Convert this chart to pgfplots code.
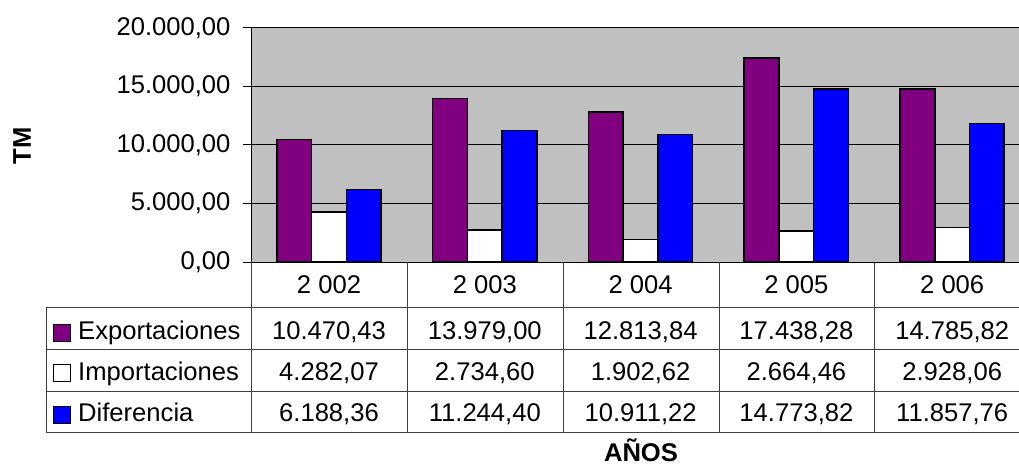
\documentclass[border=0pt]{standalone}
\usepackage{fontspec}
\setmainfont{Liberation Sans}
\usepackage{pgfplots}
\usepackage{pgfplotstable}
\pgfplotsset{compat=1.18}

\pgfplotstableread{
x exp imp dif
0 10470.43 4282.07 6188.36
1 13979.00 2734.60 11244.40
2 12813.84 1902.62 10911.22
3 17438.28 2664.46 14773.82
4 14785.82 2928.06 11857.76
}\datatable

\definecolor{expc}{RGB}{128,0,128}
\definecolor{impc}{RGB}{255,255,255}
\definecolor{difc}{RGB}{0,0,255}
\definecolor{plotbg}{RGB}{192,192,192}
\newcommand\bigf{\fontsize{25.6}{30}\selectfont}

\begin{document}
\begin{tikzpicture}[font=\bigf]
\begin{axis}[
  at={(251pt,-262pt)}, anchor=south west,
  scale only axis, width=779pt, height=234pt,
  xmin=-0.5, xmax=4.5, ymin=0, ymax=20000,
  axis background/.style={fill=plotbg},
  ybar=0pt, bar width=0.2228,
  xtick=\empty,
  ytick={0,5000,10000,15000,20000},
  scaled y ticks=false,
  ymajorgrids, grid style={black, line width=1pt},
  axis x line*=bottom, axis y line*=left,
  axis line style={black, line width=1pt, -},
  tick align=outside, major tick length=8pt,
  tick style={black, line width=1pt},
  tick label style={font=\bigf},
  yticklabel style={xshift=-9pt, /pgf/number format/.cd, fixed, fixed zerofill, precision=2, use comma, 1000 sep={.}, assume math mode=true},
  clip=false,
]
\addplot[fill=expc, draw=black, line width=1.5pt, bar shift=-0.2228] table[x=x,y=exp]{\datatable};
\addplot[fill=impc, draw=black, line width=1.5pt, bar shift=0] table[x=x,y=imp]{\datatable};
\addplot[fill=difc, draw=black, line width=1.5pt, bar shift=0.2228] table[x=x,y=dif]{\datatable};
\end{axis}
\begin{scope}[x=1pt, y=-1pt]
  % table lines
  \foreach \yy in {307,349,391,432} {\draw[black!75, line width=1pt] (46,\yy) -- (1030,\yy);}
  \draw[black!75, line width=1pt] (46,307) -- (46,432);
  \foreach \xx in {251,407,563,719,874,1030} {\draw[black!75, line width=1pt] (\xx,262) -- (\xx,432);}
  % years
  \foreach \lab [count=\k from 0] in {2 002, 2 003, 2 004, 2 005, 2 006} {
    \pgfmathsetmacro\cx{329+155.8*\k}
    \node[anchor=base, inner sep=0pt] at (\cx,293) {\lab};
  }
  % values
  \foreach \i in {0,...,4} {
    \pgfmathsetmacro\cx{329+155.8*\i}
    \foreach \col/\yb in {exp/339.5, imp/380, dif/421.5} {
      \pgfplotstablegetelem{\i}{\col}\of\datatable
      \node[anchor=base, inner sep=0pt] at (\cx,\yb) {\pgfmathprintnumber[fixed, fixed zerofill, precision=2, use comma, 1000 sep={.}, assume math mode=true]{\pgfplotsretval}};
    }
  }
  % legend keys
  \foreach \c/\lab/\yb in {expc/Exportaciones/339.5, impc/Importaciones/380, difc/Diferencia/421.5} {
    \draw[fill=\c, draw=black, line width=1pt] (53,\yb-15.5) rectangle (70,\yb+1.5);
    \node[anchor=base west, inner sep=0pt] at (78,\yb) {\lab};
  }
  % axis titles
  \node[rotate=90, font=\bigf\bfseries, inner sep=0pt] at (22,146) {TM};
  \node[anchor=base, font=\bigf\bfseries, inner sep=0pt] at (641,461) {AÑOS};
\end{scope}
\pgfresetboundingbox
\useasboundingbox (0pt,0pt) rectangle (1019pt,-465pt);
\end{tikzpicture}
\end{document}
